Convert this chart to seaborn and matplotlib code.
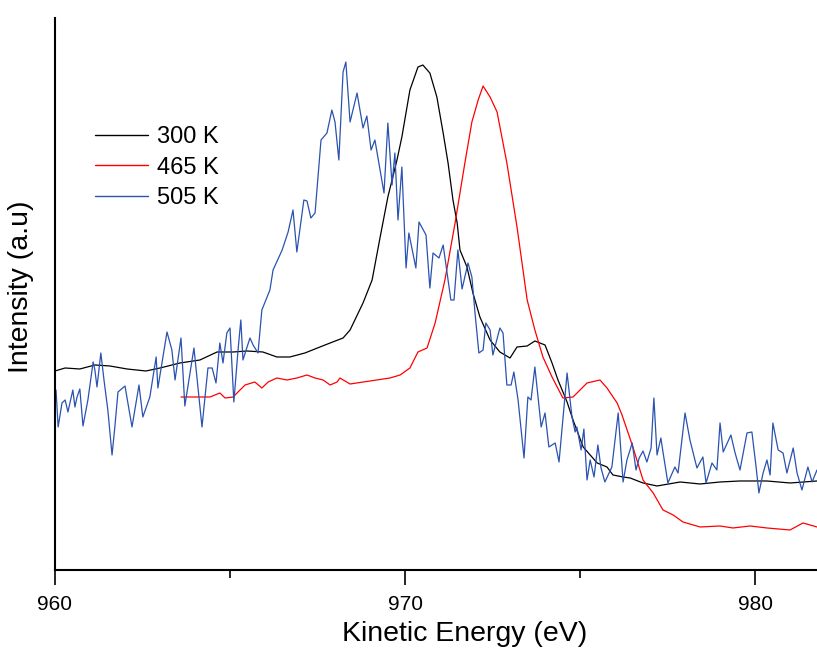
import pandas as pd
import numpy as np
import matplotlib
matplotlib.use("Agg")
import matplotlib.pyplot as plt
import seaborn as sns

# =========================
# 1. DATA
# =========================

ke_300 = [960.00, 960.29, 960.71, 961.14, 961.57, 962.06, 962.60, 963.00, 963.57, 964.14,
          964.63, 965.09, 965.49, 965.94, 966.34, 966.71, 967.14, 967.57, 967.86, 968.23,
          968.43, 968.80, 969.06, 969.29, 969.51, 969.77, 969.91, 970.14, 970.37, 970.51,
          970.71, 970.91, 971.09, 971.23, 971.37, 971.49, 971.57, 971.77, 971.94, 972.14,
          972.43, 972.71, 973.00, 973.20, 973.49, 973.71, 974.00, 974.20, 974.37, 974.63,
          974.80, 975.09, 975.49, 975.77, 975.94, 976.23, 976.43, 976.80, 977.20, 977.86,
          978.43, 979.00, 979.57, 980.34, 981.00, 981.77]
int_300 = [199, 202, 201, 205, 204, 201, 199, 202, 207, 210,
           218, 218, 219, 218, 213, 213, 217, 223, 227, 232,
           240, 267, 290, 333, 373, 410, 433, 480, 503, 505,
           497, 473, 437, 407, 370, 347, 320, 303, 277, 253,
           230, 218, 212, 223, 224, 229, 225, 207, 190, 168,
           150, 123, 107, 103, 95, 93, 92, 87, 84, 88,
           86, 88, 89, 89, 87, 89]

ke_465 = [963.60, 964.14, 964.43, 964.71, 964.86, 965.09, 965.23, 965.43, 965.71, 965.91,
          966.09, 966.34, 966.63, 966.91, 967.20, 967.43, 967.66, 967.86, 968.06, 968.14,
          968.43, 969.00, 969.57, 969.86, 970.14, 970.37, 970.63, 970.86, 971.14, 971.43,
          971.71, 971.91, 972.09, 972.23, 972.43, 972.63, 972.91, 973.20, 973.49, 973.71,
          973.94, 974.20, 974.51, 974.80, 975.20, 975.57, 975.77, 976.06, 976.20, 976.51,
          976.80, 977.09, 977.37, 977.66, 977.94, 978.43, 979.00, 979.37, 979.86, 980.34,
          981.00, 981.37, 981.77]
int_465 = [173, 173, 173, 177, 172, 173, 178, 185, 188, 182,
           188, 192, 190, 192, 195, 192, 190, 185, 188, 192,
           186, 189, 192, 195, 202, 218, 222, 247, 290, 347,
           407, 448, 470, 484, 473, 458, 407, 343, 270, 240,
           213, 193, 172, 173, 187, 190, 182, 167, 155, 123,
           90, 77, 60, 55, 48, 43, 44, 42, 44, 42,
           40, 47, 43]

ke_505 = [960.03, 960.09, 960.20, 960.29, 960.37, 960.51, 960.57, 960.63, 960.71, 960.80,
          960.94, 961.09, 961.14, 961.20, 961.31, 961.40, 961.51, 961.63, 961.71, 961.80,
          962.00, 962.20, 962.40, 962.51, 962.71, 962.89, 962.94, 963.20, 963.34, 963.43,
          963.60, 963.71, 963.97, 964.20, 964.37, 964.49, 964.60, 964.71, 964.80, 964.91,
          965.00, 965.11, 965.23, 965.31, 965.37, 965.57, 965.66, 965.80, 965.91, 966.14,
          966.23, 966.49, 966.66, 966.80, 966.91, 967.11, 967.20, 967.31, 967.43, 967.60,
          967.77, 967.91, 968.00, 968.11, 968.23, 968.31, 968.43, 968.63, 968.80, 968.91,
          969.03, 969.14, 969.40, 969.51, 969.63, 969.71, 969.80, 969.91, 970.03, 970.11,
          970.31, 970.40, 970.60, 970.71, 970.80, 970.97, 971.09, 971.31, 971.40, 971.51,
          971.63, 971.80, 971.91, 972.00, 972.11, 972.23, 972.31, 972.43, 972.51, 972.71,
          972.80, 972.91, 973.03, 973.11, 973.23, 973.40, 973.51, 973.60, 973.71, 973.89,
          974.00, 974.11, 974.29, 974.40, 974.63, 974.77, 974.86, 974.91, 975.03, 975.11,
          975.20, 975.29, 975.40, 975.51, 975.60, 975.71, 975.91, 976.09, 976.23, 976.34,
          976.49, 976.60, 976.69, 976.80, 976.91, 977.03, 977.11, 977.20, 977.31, 977.37,
          977.51, 977.71, 977.80, 978.00, 978.14, 978.34, 978.51, 978.60, 978.77, 978.91,
          979.00, 979.09, 979.31, 979.43, 979.57, 979.77, 979.91, 980.03, 980.11, 980.23,
          980.34, 980.43, 980.51, 980.66, 980.80, 980.91, 981.09, 981.20, 981.34, 981.51,
          981.63, 981.77]
int_505 = [180, 143, 167, 170, 158, 180, 163, 173, 181, 144,
           170, 208, 200, 183, 217, 190, 160, 115, 143, 178,
           184, 143, 185, 153, 173, 213, 182, 238, 220, 190,
           232, 164, 222, 143, 202, 202, 187, 227, 207, 237,
           242, 168, 220, 250, 210, 232, 225, 217, 260, 280,
           300, 320, 338, 360, 318, 370, 369, 352, 357, 430,
           437, 460, 448, 410, 498, 508, 448, 477, 442, 454,
           420, 430, 377, 447, 385, 417, 350, 403, 302, 337,
           302, 348, 335, 282, 317, 312, 325, 270, 270, 320,
           281, 307, 293, 257, 217, 220, 247, 240, 215, 242,
           237, 185, 185, 198, 170, 112, 173, 170, 203, 143,
           157, 123, 127, 108, 197, 153, 138, 143, 120, 141,
           90, 110, 93, 125, 102, 88, 103, 157, 88, 110,
           127, 100, 112, 119, 108, 122, 172, 115, 132, 118,
           87, 103, 97, 157, 130, 102, 113, 87, 107, 100,
           147, 118, 135, 117, 100, 137, 138, 103, 77, 97,
           110, 95, 147, 120, 117, 97, 122, 97, 80, 103,
           88, 100]

labels = ["300 K", "465 K", "505 K"]
colors = ["#000000", "#ff0000", "#2a52b0"]

# long format table for seaborn
df = pd.concat([
    pd.DataFrame({"ke": ke_300, "intensity": int_300, "T": labels[0]}),
    pd.DataFrame({"ke": ke_465, "intensity": int_465, "T": labels[1]}),
    pd.DataFrame({"ke": ke_505, "intensity": int_505, "T": labels[2]}),
], ignore_index=True)

# =========================
# 2. PLOT
# =========================

sns.set_style("white")
plt.rcParams["font.family"] = ["Liberation Sans", "DejaVu Sans"]
plt.rcParams["text.color"] = "black"
plt.rcParams["axes.labelcolor"] = "black"
plt.rcParams["xtick.color"] = "black"

fig = plt.figure(figsize=(8.17, 6.48), dpi=100)
ax = fig.add_axes([0.0673, 0.1204, 0.9327, 0.8518])

sns.lineplot(
    data=df, x="ke", y="intensity", hue="T",
    hue_order=labels, palette=dict(zip(labels, colors)),
    sort=False, estimator=None, linewidth=0.9, ax=ax
)

ax.set_xlim(960, 981.77)
ax.set_ylim(0, 552)

ax.set_xticks([960, 970, 980])
ax.set_xticks([965, 975], minor=True)
ax.set_yticks([])
ax.tick_params(axis="x", which="major", direction="out", length=11, width=1.2,
               labelsize=15, pad=7, bottom=True, color="black", labelcolor="black")
ax.tick_params(axis="x", which="minor", direction="out", length=6, width=1.2,
               bottom=True, color="black")

for side in ["top", "right"]:
    ax.spines[side].set_visible(False)
for side in ["left", "bottom"]:
    ax.spines[side].set_color("black")
    ax.spines[side].set_linewidth(1.5)

ax.set_xlabel("Kinetic Energy (eV)", fontsize=20.5, color="black")
ax.set_ylabel("Intensity (a.u)", fontsize=20.5, color="black")
ax.xaxis.set_label_coords(0.538, -0.093)
ax.yaxis.set_label_coords(-0.027, 0.513)

leg = ax.legend(
    loc="upper left", bbox_to_anchor=(0.024, 0.842), frameon=False,
    fontsize=17, handlelength=2.25, handletextpad=0.4, labelspacing=0.35
)
for line in leg.get_lines():
    line.set_linewidth(1.0)

fig.savefig("out.png", dpi=100)
plt.close()
